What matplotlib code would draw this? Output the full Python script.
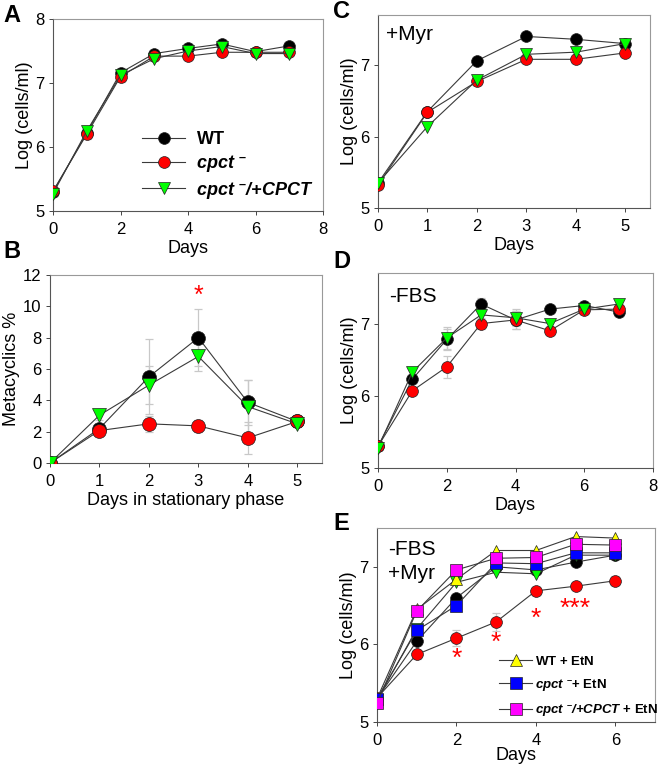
import matplotlib
matplotlib.use('Agg')
import matplotlib.pyplot as plt

plt.rcParams['font.family'] = ['Liberation Sans', 'DejaVu Sans']
plt.rcParams['mathtext.fontset'] = 'custom'
plt.rcParams['mathtext.rm'] = 'Liberation Sans:bold'
plt.rcParams['mathtext.it'] = 'Liberation Sans:italic'
plt.rcParams['mathtext.bf'] = 'Liberation Sans:bold'
plt.rcParams['mathtext.bfit'] = 'Liberation Sans:bold:italic'

# ---- data ----
days_a = [0, 1, 2, 3, 4, 5, 6, 7]
a_wt   = [5.30, 6.22, 7.16, 7.46, 7.54, 7.61, 7.49, 7.58]
a_ko   = [5.31, 6.20, 7.10, 7.42, 7.42, 7.48, 7.48, 7.48]
a_ab   = [5.27, 6.25, 7.12, 7.38, 7.50, 7.57, 7.46, 7.46]
a_err  = [0.02, 0.08, 0.08, 0.04, 0.04, 0.03, 0.03, 0.03]

days_b = [0, 1, 2, 3, 4, 5]
b_wt   = [0.0, 2.2, 5.5, 8.0, 3.87, 2.65]
b_ko   = [0.0, 2.07, 2.5, 2.37, 1.6, 2.65]
b_ab   = [0.0, 3.05, 4.97, 6.8, 3.6, 2.5]
b_wt_err = [0.0, 0.3, 2.4, 1.8, 1.45, 0.2]
b_ko_err = [0.0, 0.3, 0.5, 0.4, 1.0, 0.2]
b_ab_err = [0.0, 0.3, 1.2, 0.9, 1.7, 0.2]

days_c = [0, 1, 2, 3, 4, 5]
c_wt   = [5.35, 6.35, 7.06, 7.40, 7.36, 7.30]
c_ko   = [5.32, 6.34, 6.77, 7.08, 7.08, 7.17]
c_ab   = [5.35, 6.14, 6.79, 7.15, 7.18, 7.30]

days_d = [0, 1, 2, 3, 4, 5, 6, 7]
d_wt   = [5.30, 6.23, 6.78, 7.27, 7.05, 7.20, 7.25, 7.16]
d_ko   = [5.30, 6.07, 6.40, 7.00, 7.05, 6.90, 7.19, 7.20]
d_ab   = [5.28, 6.33, 6.80, 7.12, 7.08, 7.00, 7.20, 7.27]
d_err  = [0.02, 0.05, 0.15, 0.08, 0.12, 0.05, 0.05, 0.06]

days_e = [0, 1, 2, 3, 4, 5, 6]
e_wt     = [5.30, 6.04, 6.60, 7.00, 6.96, 7.06, 7.15]
e_ko     = [5.31, 5.87, 6.08, 6.29, 6.69, 6.75, 6.82]
e_ab     = [5.28, 6.20, 6.80, 6.93, 6.91, 7.15, 7.15]
e_wt_etn = [5.30, 6.45, 6.84, 7.21, 7.21, 7.39, 7.37]
e_ko_etn = [5.30, 6.18, 6.50, 7.05, 7.04, 7.18, 7.18]
e_ab_etn = [5.24, 6.43, 6.96, 7.11, 7.12, 7.29, 7.28]
e_ko_err = [0.02, 0.06, 0.10, 0.12, 0.05, 0.04, 0.06]
e_star_x = [2, 3, 4, 5]
e_star_y = [5.82, 6.02, 6.33, 6.46]
e_star_txt = ['*', '*', '*', '***']

SUP = r'\ ^{\text{–}}'
lbl_wt = r'$\mathbf{WT}$'
lbl_ko = r'$\mathbfit{cpct}' + SUP + '$'
lbl_ab = r'$\mathbfit{cpct}' + SUP + r'\mathbfit{/{+}CPCT}$'
lbl_wt_etn = r'$\mathbf{WT\ {+}\ EtN}$'
lbl_ko_etn = r'$\mathbfit{cpct}' + SUP + r'\mathbf{{+}\ EtN}$'
lbl_ab_etn = r'$\mathbfit{cpct}' + SUP + r'\mathbfit{/{+}CPCT}\mathbf{\ {+}\ EtN}$'

LINE = '#3a3a3a'
ERR = '#c8c8c8'
FS_LAB = 13
FS_TICK = 12


def style(ax, xlim, ylim, xticks, yticks):
    ax.set_xlim(*xlim)
    ax.set_ylim(*ylim)
    ax.set_xticks(xticks)
    ax.set_yticks(yticks)
    for s in ['left', 'bottom']:
        ax.spines[s].set_color('#555555')
        ax.spines[s].set_linewidth(0.8)
    for s in ['top', 'right']:
        ax.spines[s].set_color('#999999')
        ax.spines[s].set_linewidth(0.8)
    ax.tick_params(direction='out', length=3, width=0.7, color='#444444',
                   labelsize=FS_TICK)
    ax.tick_params(axis='x', pad=5)
    ax.tick_params(axis='y', pad=3)
    for sp in ax.spines.values():
        sp.set_zorder(0.5)


def series(ax, x, y, color, marker, ms, err=None, label=None, z=3):
    if err is not None:
        ax.errorbar(x, y, yerr=err, fmt='none', ecolor=ERR, elinewidth=0.9,
                    capsize=3, capthick=0.9, zorder=1)
    ax.plot(x, y, color=LINE, lw=0.8, marker=marker, ms=ms, mfc=color,
            mec='#222222', mew=0.5, label=label, zorder=z)


fig = plt.figure(figsize=(6.58, 7.64), dpi=100)
W, H = 658, 764


def add_ax(l, r, t, b):
    return fig.add_axes([l / W, 1 - b / H, (r - l) / W, (b - t) / H])


# ---- A ----
axA = add_ax(53, 323, 19, 211)
series(axA, days_a, a_wt, 'black', 'o', 8.5, a_err, lbl_wt)
series(axA, days_a, a_ko, 'red', 'o', 8.5, a_err, lbl_ko)
series(axA, days_a, a_ab, '#00ff00', 'v', 8.5, a_err, lbl_ab)
style(axA, (0, 8), (5, 8), [0, 2, 4, 6, 8], [5, 6, 7, 8])
axA.set_xlabel('Days', fontsize=FS_LAB, labelpad=2)
axA.set_ylabel('Log (cells/ml)', fontsize=FS_LAB, labelpad=2)
axA.legend(loc='center left', bbox_to_anchor=(0.33, 0.235), frameon=False,
           fontsize=13, handlelength=2.4, handletextpad=0.6, labelspacing=0.3,
           borderaxespad=0, borderpad=0)

# ---- B ----
axB = add_ax(50, 322, 275, 463)
series(axB, days_b, b_wt, 'black', 'o', 10, b_wt_err)
series(axB, days_b, b_ko, 'red', 'o', 10, b_ko_err)
series(axB, days_b, b_ab, '#00ff00', 'v', 10, b_ab_err)
axB.text(3, 10.7, '*', color='red', fontsize=18, ha='center', va='center')
style(axB, (0, 5.5), (0, 12), [0, 1, 2, 3, 4, 5], [0, 2, 4, 6, 8, 10, 12])
axB.set_xlabel('Days in stationary phase', fontsize=FS_LAB, labelpad=2)
axB.set_ylabel('Metacyclics %', fontsize=FS_LAB, labelpad=2)

# ---- C ----
axC = add_ax(378, 650, 15, 208)
series(axC, days_c, c_wt, 'black', 'o', 8.5)
series(axC, days_c, c_ko, 'red', 'o', 8.5)
series(axC, days_c, c_ab, '#00ff00', 'v', 8.5)
style(axC, (0, 5.5), (5, 7.7), [0, 1, 2, 3, 4, 5], [5, 6, 7])
axC.set_xlabel('Days', fontsize=FS_LAB, labelpad=2)
axC.set_ylabel('Log (cells/ml)', fontsize=FS_LAB, labelpad=2)
axC.text(0.03, 0.95, '+Myr', transform=axC.transAxes, fontsize=15, va='top')

# ---- D ----
axD = add_ax(378, 653, 273, 468)
series(axD, days_d, d_wt, 'black', 'o', 8.5, d_err)
series(axD, days_d, d_ko, 'red', 'o', 8.5, d_err)
series(axD, days_d, d_ab, '#00ff00', 'v', 8.5, d_err)
style(axD, (0, 8), (5, 7.7), [0, 2, 4, 6, 8], [5, 6, 7])
axD.set_xlabel('Days', fontsize=FS_LAB, labelpad=2)
axD.set_ylabel('Log (cells/ml)', fontsize=FS_LAB, labelpad=2)
axD.text(0.04, 0.93, '-FBS', transform=axD.transAxes, fontsize=15, va='top')

# ---- E ----
axE = add_ax(377, 655, 528, 722)
series(axE, days_e, e_wt, 'black', 'o', 8.5)
series(axE, days_e, e_ko, 'red', 'o', 8.5, e_ko_err)
series(axE, days_e, e_ab, '#00ff00', 'v', 8.5)
series(axE, days_e, e_wt_etn, '#ffff00', '^', 9, label=lbl_wt_etn)
series(axE, days_e, e_ko_etn, '#0000ff', 's', 8, label=lbl_ko_etn)
series(axE, days_e, e_ab_etn, '#ff00ff', 's', 8, label=lbl_ab_etn)
for x, y, t in zip(e_star_x, e_star_y, e_star_txt):
    axE.text(x, y, t, color='red', fontsize=19, ha='center', va='center')
style(axE, (0, 7), (5, 7.5), [0, 2, 4, 6], [5, 6, 7])
axE.set_xlabel('Days', fontsize=FS_LAB, labelpad=-1)
axE.set_ylabel('Log (cells/ml)', fontsize=FS_LAB, labelpad=2)
axE.text(0.04, 0.94, '-FBS\n+Myr', transform=axE.transAxes, fontsize=15,
         va='top', linespacing=1.35)
axE.legend(loc='lower left', bbox_to_anchor=(0.44, 0.02), frameon=False,
           fontsize=9.5, handlelength=2.5, handletextpad=0.2, labelspacing=0.7,
           borderaxespad=0, borderpad=0)

# ---- panel letters ----
for lab, x, y in [('A', 3, 15), ('B', 3, 252), ('C', 333, 12),
                  ('D', 333, 262), ('E', 333, 524)]:
    fig.text(x / W, 1 - y / H, lab, fontsize=17, fontweight='bold',
             va='center', ha='left')

fig.savefig('out.png', dpi=100)
